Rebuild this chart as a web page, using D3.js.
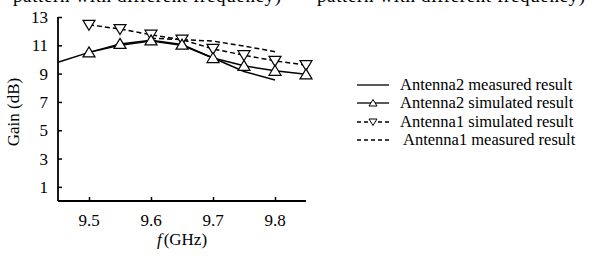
<!DOCTYPE html>
<html>
<head>
<meta charset="utf-8">
<script src="https://cdn.jsdelivr.net/npm/d3@7"></script>
<style>
  body { margin: 0; background: #fff; }
  svg { display: block; }
  text { font-family: "Liberation Serif", "DejaVu Serif", serif; }
</style>
</head>
<body>
<svg id="chart" width="599" height="258" font-family="Liberation Serif, DejaVu Serif, serif"></svg>
<script>
// frequency points (GHz)
const freqSim = [9.5, 9.55, 9.6, 9.65, 9.7, 9.75, 9.8, 9.85];
const freqAnt2Meas = [9.45, 9.5, 9.55, 9.6, 9.65, 9.7, 9.75, 9.8];
const freqAnt1Meas = [9.6, 9.65, 9.7, 9.75, 9.8];

// gain values (dB)
const ant2Measured = [9.8, 10.5, 11.0, 11.3, 11.0, 10.1, 9.15, 8.55];
const ant2Simulated = [10.5, 11.1, 11.35, 11.05, 10.1, 9.55, 9.2, 8.95];
const ant1Simulated = [12.45, 12.15, 11.75, 11.4, 10.75, 10.3, 9.9, 9.6];
const ant1Measured = [11.5, 11.4, 11.3, 10.95, 10.55];

const xTicks = [9.5, 9.6, 9.7, 9.8];
const yTicks = [1, 3, 5, 7, 9, 11, 13];
const legendLabels = [
  "Antenna2 measured result",
  "Antenna2 simulated result",
  "Antenna1 simulated result",
  "Antenna1 measured result"
];
const headerText = "pattern with different frequency)";

const svg = d3.select("#chart");

var x = d3.scaleLinear().domain([9.45, 9.85]).range([58, 306]);
var y = d3.scaleLinear().domain([0, 13]).range([201, 17]);

// cut-off caption text at the top
svg.selectAll("text.header")
  .data([13, 317])
  .enter()
  .append("text")
  .attr("class", "header")
  .attr("x", d => d)
  .attr("y", 2)
  .attr("font-size", 19)
  .attr("textLength", 268)
  .text(headerText);

// axes
var yAxis = d3.axisRight(y).tickValues(yTicks).tickSize(4).tickFormat("");
var gy = svg.append("g").attr("transform", "translate(58,0)").call(yAxis);
gy.select(".domain").attr("d", "M0," + y(13) + "V" + y(0)).attr("stroke-width", 1.8);
gy.selectAll(".tick line").attr("stroke-width", 1.5);

var xAxis = d3.axisTop(x).tickValues(xTicks).tickSize(4).tickFormat("");
var gx = svg.append("g").attr("transform", "translate(0," + y(0) + ")").call(xAxis);
gx.select(".domain").attr("d", "M" + x(9.45) + ",0H" + x(9.85)).attr("stroke-width", 1.8);
gx.selectAll(".tick line").attr("stroke-width", 1.5);

// tick labels
svg.selectAll("text.ylab")
  .data(yTicks)
  .enter()
  .append("text")
  .attr("class", "ylab")
  .attr("x", 48)
  .attr("y", d => y(d) + 6)
  .attr("text-anchor", "end")
  .attr("font-size", 17)
  .text(d => d);

svg.selectAll("text.xlab")
  .data(xTicks)
  .enter()
  .append("text")
  .attr("class", "xlab")
  .attr("x", d => x(d))
  .attr("y", 226)
  .attr("text-anchor", "middle")
  .attr("font-size", 17)
  .text(d => d3.format(".1f")(d));

// axis titles
var xt = svg.append("text")
  .attr("x", 182)
  .attr("y", 245)
  .attr("text-anchor", "middle")
  .attr("font-size", 17);
xt.append("tspan").attr("font-style", "italic").text("f");
xt.append("tspan").attr("dx", 2).text("(GHz)");

svg.append("text")
  .attr("transform", "translate(19,112) rotate(-90)")
  .attr("text-anchor", "middle")
  .attr("font-size", 17)
  .text("Gain (dB)");

// series
var line = d3.line().x(d => x(d[0])).y(d => y(d[1]));
const zip = (a, b) => a.map((v, i) => [v, b[i]]);

const triUp = "M0,-5.5L6,4.5L-6,4.5Z";
const triDown = "M0,5.5L6,-4.5L-6,-4.5Z";

function drawSeries(xs, ys, dash, marker) {
  const pts = zip(xs, ys);
  svg.append("path")
    .datum(pts)
    .attr("d", line)
    .attr("fill", "none")
    .attr("stroke", "#000")
    .attr("stroke-width", 1.5)
    .attr("stroke-dasharray", dash);
  if (marker) {
    svg.append("g")
      .selectAll("path")
      .data(pts)
      .enter()
      .append("path")
      .attr("d", marker)
      .attr("transform", d => "translate(" + x(d[0]) + "," + y(d[1]) + ")")
      .attr("fill", "#fff")
      .attr("stroke", "#000")
      .attr("stroke-width", 1.2);
  }
}

drawSeries(freqAnt1Meas, ant1Measured, "5,3", null);
drawSeries(freqAnt2Meas, ant2Measured, null, null);
drawSeries(freqSim, ant1Simulated, "5,3", triDown);
drawSeries(freqSim, ant2Simulated, null, triUp);

// legend
const legendRows = [85, 103, 122, 140];
const legendDash = [null, null, "4,3", "4,3"];
const legendMarker = [null, "M0,-3.5L4,3L-4,3Z", "M0,3.5L4,-3L-4,-3Z", null];

legendRows.forEach((ry, i) => {
  svg.append("line")
    .attr("x1", 357).attr("x2", 389)
    .attr("y1", ry).attr("y2", ry)
    .attr("stroke", "#000")
    .attr("stroke-width", 1.3)
    .attr("stroke-dasharray", legendDash[i]);
  if (legendMarker[i]) {
    svg.append("path")
      .attr("d", legendMarker[i])
      .attr("transform", "translate(373," + ry + ")")
      .attr("fill", "#fff")
      .attr("stroke", "#000")
      .attr("stroke-width", 1);
  }
  svg.append("text")
    .attr("x", i === 3 ? 403 : 400)
    .attr("y", ry + 5)
    .attr("font-size", 16.5)
    .text(legendLabels[i]);
});
</script>
</body>
</html>
